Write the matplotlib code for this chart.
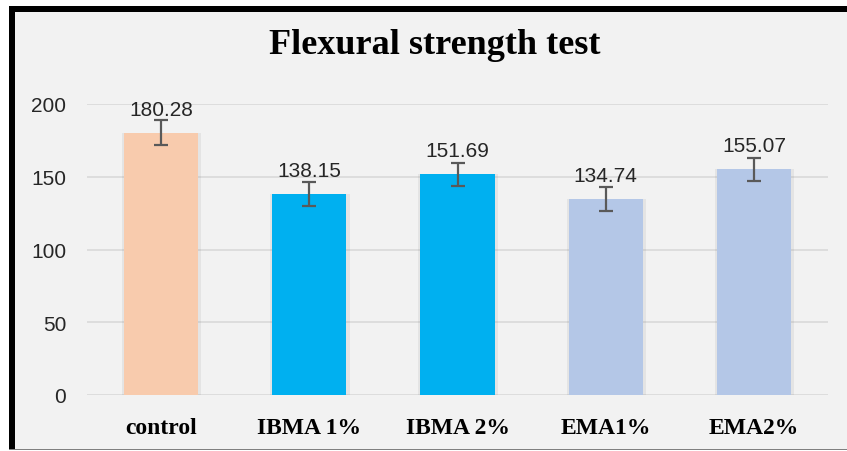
import numpy as np
import matplotlib.pyplot as plt
from matplotlib.patches import Rectangle

categories = ["control", "IBMA 1%", "IBMA 2%", "EMA1%", "EMA2%"]
values = [180.28, 138.15, 151.69, 134.74, 155.07]
errors = [8.5, 8.0, 8.0, 8.0, 8.0]
colors = ["#F8CBAD", "#00B0F0", "#00B0F0", "#B4C7E7", "#B4C7E7"]
yticks = [0, 50, 100, 150, 200]

W, H = 847, 452
fig = plt.figure(figsize=(W / 100, H / 100), dpi=100)
fig.patch.set_facecolor("white")

def px_rect(x0, y0, x1, y1, color):
    # rectangle in pixel coords (origin top-left)
    fig.add_artist(Rectangle((x0 / W, 1 - y1 / H), (x1 - x0) / W, (y1 - y0) / H,
                             transform=fig.transFigure, facecolor=color,
                             edgecolor="none", zorder=-10))

px_rect(9, 7, W, 451, "#F2F2F2")
px_rect(9, 7, W, 13, "black")
px_rect(9, 7, 15, 451, "black")
px_rect(9, 449.5, W, 451, "#808080")

ax = fig.add_axes([87 / W, 56 / H, 741 / W, 291 / H])
ax.set_facecolor("none")

x = np.arange(len(categories))
# soft shadow behind bars
ax.bar(x + 0.004, values, width=0.535, color="#7f7f7f", alpha=0.12, zorder=2)
ax.bar(x, values, width=0.5, color=colors, zorder=3)
ax.errorbar(x, values, yerr=errors, fmt="none", ecolor="#595959",
            elinewidth=1.6, capsize=5, capthick=1.6, zorder=4)

for xi, v in zip(x, values):
    ax.annotate(f"{v:.2f}", (xi, v), xytext=(0, 13), textcoords="offset points",
                ha="center", va="baseline", fontsize=15,
                family="Liberation Sans", color="#262626", clip_on=False)

ax.set_xlim(-0.5, len(categories) - 0.5)
ax.set_ylim(0, 200)
ax.set_yticks(yticks)
ax.set_yticklabels([str(t) for t in yticks], family="Liberation Sans",
                   fontsize=15, color="#262626")
ax.set_xticks(x)
ax.set_xticklabels(categories, family="Liberation Serif", fontweight="bold",
                   fontsize=17, color="black")
ax.tick_params(axis="both", length=0)
ax.tick_params(axis="y", pad=15)
ax.tick_params(axis="x", pad=16)
ax.grid(axis="y", color="#D9D9D9", linewidth=1.2, zorder=0)
ax.set_axisbelow(True)
for s in ax.spines.values():
    s.set_visible(False)

fig.text(435 / W, 1 - 46 / H, "Flexural strength test", ha="center", va="center",
         family="Liberation Serif", fontweight="bold", fontsize=26)

fig.savefig("out.png", dpi=100)
